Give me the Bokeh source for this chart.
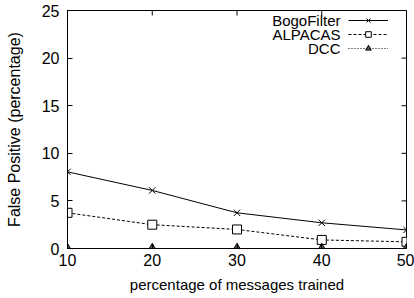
from bokeh.plotting import figure
from bokeh.models import Range1d, Legend, LegendItem, Label, FixedTicker
from bokeh.embed import file_html
from bokeh.resources import INLINE

# data
trained = [10, 20, 30, 40, 50]
bogofilter = [8.05, 6.1, 3.75, 2.7, 1.95]
alpacas = [3.75, 2.5, 2.0, 0.9, 0.7]
dcc = [0.0, 0.0, 0.0, 0.0, 0.0]
x_ticks = [10, 20, 30, 40, 50]
y_ticks = [0, 5, 10, 15, 20, 25]
series_names = ["BogoFilter", "ALPACAS", "DCC"]
x_min, x_max = 10, 50
y_min, y_max = 0, 25

FONT = "Liberation Sans"

p = figure(frame_width=339, frame_height=238, output_backend="svg", toolbar_location=None,
           x_range=Range1d(x_min, x_max), y_range=Range1d(y_min, y_max),
           min_border_left=67, min_border_right=8, min_border_top=10, min_border_bottom=50,
           x_axis_label="percentage of messages trained",
           y_axis_label="False Positive (percentage)")
p.grid.visible = False
p.outline_line_color = "black"
p.outline_line_width = 1
p.background_fill_color = "white"
p.border_fill_color = "white"

for ax in p.xaxis + p.yaxis:
    ax.major_tick_in = 5
    ax.major_tick_out = 0
    ax.minor_tick_in = 0
    ax.minor_tick_out = 0
    ax.axis_line_color = "black"
    ax.major_tick_line_color = "black"
    ax.major_label_text_font = FONT
    ax.major_label_text_font_size = "16px"
    ax.major_label_text_color = "black"
    ax.axis_label_text_font = FONT
    ax.axis_label_text_font_style = "normal"
    ax.axis_label_text_color = "black"

p.xaxis.ticker = FixedTicker(ticks=x_ticks)
p.yaxis.ticker = FixedTicker(ticks=y_ticks)
p.xaxis.major_label_standoff = 5
p.yaxis.major_label_standoff = 8
p.xaxis.axis_label_text_font_size = "15px"
p.yaxis.axis_label_text_font_size = "16px"
p.xaxis.axis_label_standoff = 7
p.yaxis.axis_label_standoff = 16

# mirror ticks on the top and right frame edges
p.ray(x=x_ticks, y=[y_max] * len(x_ticks), length=5, length_units="screen",
      angle=-90, angle_units="deg", line_color="black", line_width=1)
p.ray(x=[x_max] * len(y_ticks), y=y_ticks, length=5, length_units="screen",
      angle=180, angle_units="deg", line_color="black", line_width=1)

# series
l1 = p.line(trained, bogofilter, line_color="black", line_width=1)
m1 = p.scatter(trained, bogofilter, marker="x", size=9, line_color="black", line_width=1)
l2 = p.line(trained, alpacas, line_color="black", line_width=1, line_dash="3 2")
m2 = p.scatter(trained, alpacas, marker="square", size=9, line_color="black",
               fill_color="white", line_width=1)
l3 = p.line(trained, dcc, line_color="black", line_width=1, line_dash="1 2")
m3 = p.scatter(trained, dcc, marker="triangle", size=9, line_color="black",
               fill_color="#555555", line_width=1)

legend = Legend(items=[LegendItem(label="", renderers=[l1, m1]),
                       LegendItem(label="", renderers=[l2, m2]),
                       LegendItem(label="", renderers=[l3, m3])],
                location=(281, 193), orientation="vertical",
                glyph_width=40, glyph_height=14, label_height=14, label_width=0,
                label_standoff=0, spacing=0, padding=0, margin=0,
                background_fill_alpha=0, border_line_alpha=0)
p.add_layout(legend, "center")

for i, name in enumerate(series_names):
    p.add_layout(Label(x=273, y=228 - 14 * i, x_units="screen", y_units="screen",
                       text=name, text_align="right", text_baseline="middle",
                       text_font=FONT, text_font_size="15px", text_color="black"))

open("out.html", "w").write(file_html(p, INLINE))
